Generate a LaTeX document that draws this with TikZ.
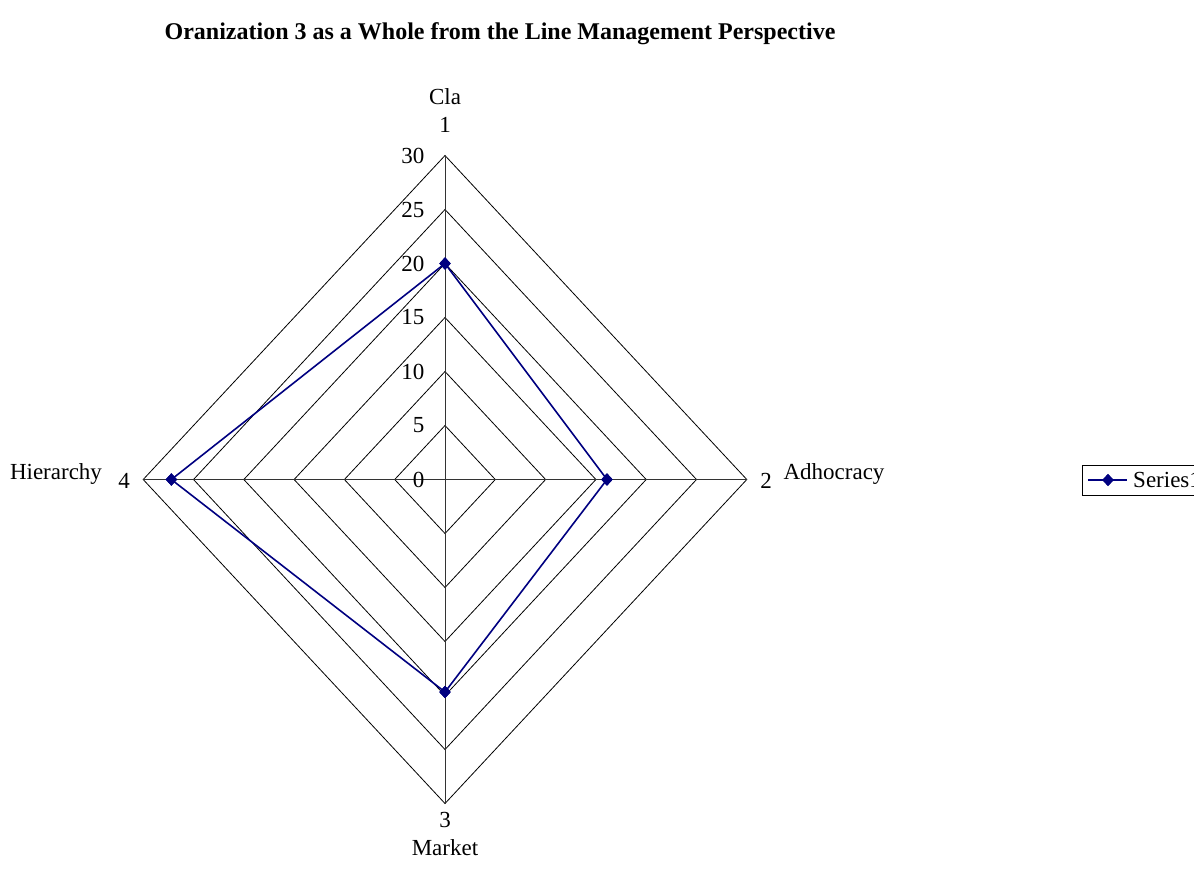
\documentclass[tikz,border=0pt]{standalone}
\usepackage{fontspec}
\setmainfont{Liberation Serif}
\usetikzlibrary{shapes.geometric}
\begin{document}
\begin{tikzpicture}[x=1pt,y=-1pt,
  gridline/.style={draw=black,line width=0.8pt},
  axisline/.style={draw=black!80,line width=0.8pt},
  series/.style={draw=navyblue,line width=1.6pt,line join=round},
  marker/.style={diamond,fill=navyblue,draw=navyblue,inner sep=0pt,minimum width=11pt,minimum height=12pt},
  lbl/.style={font=\fontsize{23}{27}\selectfont,inner sep=0pt},
  tick/.style={font=\fontsize{23}{27}\selectfont,inner sep=0pt,anchor=east},
  ttl/.style={font=\bfseries\fontsize{24}{28}\selectfont,inner sep=0pt}]
\definecolor{navyblue}{RGB}{0,0,128}
\useasboundingbox (0,0) rectangle (1194,876);
\clip (0,0) rectangle (1194,876);

% radial chart geometry: centre and pixel size of one unit on each axis
\def\cx{445}\def\cy{479.5}
\def\ux{10.06}\def\uy{10.8}

\node[ttl] (title) at (500,34) {Oranization 3 as a Whole from the Line Management Perspective};

% grid rings at 5, 10, ..., 30
\foreach \k in {1,...,6}{
  \draw[gridline] (\cx-5*\ux*\k,\cy) -- (\cx,\cy-5*\uy*\k) -- (\cx+5*\ux*\k,\cy) -- (\cx,\cy+5*\uy*\k) -- cycle;
}
% axis ends
\coordinate (a1) at (\cx,\cy-30*\uy);
\coordinate (a2) at (\cx+30*\ux,\cy);
\coordinate (a3) at (\cx,\cy+30*\uy);
\coordinate (a4) at (\cx-30*\ux,\cy);
\draw[axisline] (a1) -- (a3);
\draw[axisline] (a4) -- (a2);

% scale labels along the first axis
\foreach \v in {0,5,...,30}{
  \node[tick] (t\v) at (424.5,\cy-\v*\uy) {\v};
}

% category labels
\node[lbl] (n1) at (445,125) {1};
\node[lbl] (c1) at (445,97) {Cla};
\node[lbl] (n2) at (766,481) {2};
\node[lbl] (c2) at (834,474) {Adhocracy};
\node[lbl] (n3) at (445,820) {3};
\node[lbl] (c3) at (445,848) {Market};
\node[lbl] (n4) at (124,481) {4};
\node[lbl] (c4) at (56,474) {Hierarchy};

% data series
\node[marker] (s1) at (\cx,\cy-20*\uy) {};
\node[marker] (s2) at (\cx+16.1*\ux,\cy) {};
\node[marker] (s3) at (\cx,692) {};
\node[marker] (s4) at (\cx-27.2*\ux,\cy) {};
\draw[series] (s1.center) -- (s2.center) -- (s3.center) -- (s4.center) -- cycle;
\foreach \s in {s1,s2,s3,s4}{ \node[marker] at (\s) {}; }

% legend (runs past the right edge)
\draw[line width=0.8pt] (1082,465) rectangle (1200,495);
\coordinate (l0) at (1088,480);
\coordinate (l1) at (1127,480);
\draw[series] (l0) -- (l1);
\node[marker] (lm) at (1108,480) {};
\node[lbl,anchor=west] (ltext) at (1133,480) {Series1};
\end{tikzpicture}
\end{document}
